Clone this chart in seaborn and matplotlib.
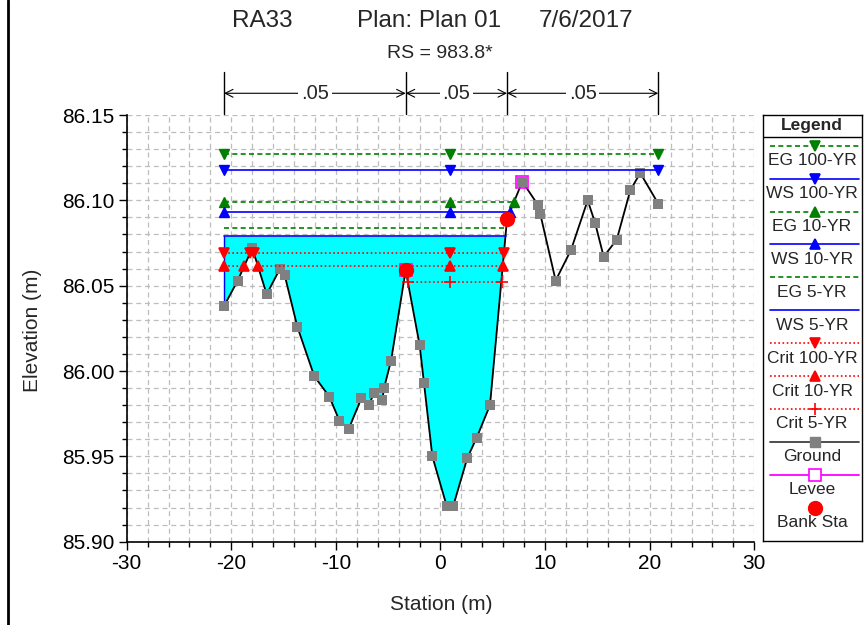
import numpy as np
import matplotlib
matplotlib.use("Agg")
import matplotlib.pyplot as plt
from matplotlib.ticker import MultipleLocator, FormatStrFormatter
from matplotlib.lines import Line2D
import seaborn as sns

# ground profile (station m, elevation m)
station = [-20.70, -19.39, -17.99, -16.62, -15.34, -14.89, -13.69, -12.07, -10.63, -9.67,
           -8.78, -7.57, -6.86, -6.36, -5.56, -5.40, -4.73, -3.33, -1.99, -1.58,
           -0.78, 0.59, 1.22, 2.56, 3.46, 4.73, 6.36, 7.82, 9.35, 9.54,
           11.01, 12.48, 14.07, 14.77, 15.60, 16.85, 18.15, 19.10, 20.82]
ground = [86.038, 86.053, 86.072, 86.045, 86.060, 86.056, 86.026, 85.997, 85.985, 85.971,
          85.966, 85.984, 85.980, 85.987, 85.983, 85.990, 86.006, 86.059, 86.015, 85.993,
          85.950, 85.921, 85.921, 85.949, 85.961, 85.980, 86.089, 86.111, 86.097, 86.092,
          86.053, 86.071, 86.100, 86.087, 86.067, 86.077, 86.106, 86.116, 86.098]

bank_sta = [-3.33, 6.36]
bank_elev = [86.059, 86.089]
levee_sta = [-3.33, 7.82]
levee_elev = [86.059, 86.111]

# energy grade / water surface profiles
ws_names = ["EG 100-YR", "WS 100-YR", "EG 10-YR", "WS 10-YR", "EG 5-YR", "WS 5-YR"]
ws_elev = [86.127, 86.118, 86.099, 86.093, 86.084, 86.079]
ws_right = [20.82, 20.82, 7.04, 6.65, 6.29, 6.22]
mid_sta = 0.91

# critical depth lines, given as (start, end) station pairs
crit_names = ["Crit 100-YR", "Crit 10-YR", "Crit 5-YR"]
crit_elev = [86.069, 86.0615, 86.052]
crit_reaches = [[(-20.70, -18.21), (-17.84, 6.07)],
                [(-20.70, -18.76), (-17.48, 5.97)],
                [(-3.12, 5.87)]]

# manning's n
n_values = [".05", ".05", ".05"]
n_breaks = [-20.70, -3.33, 6.36, 20.82]

styles = {
    "EG 100-YR": dict(color="#008000", ls=(0, (3, 2)), marker="v"),
    "WS 100-YR": dict(color="#0000ff", ls="-", marker="v"),
    "EG 10-YR": dict(color="#008000", ls=(0, (3, 2)), marker="^"),
    "WS 10-YR": dict(color="#0000ff", ls="-", marker="^"),
    "EG 5-YR": dict(color="#008000", ls=(0, (3, 2)), marker=None),
    "WS 5-YR": dict(color="#0000ff", ls="-", marker=None),
    "Crit 100-YR": dict(color="#ff0000", ls=(0, (1, 1.5)), marker="v"),
    "Crit 10-YR": dict(color="#ff0000", ls=(0, (1, 1.5)), marker="^"),
    "Crit 5-YR": dict(color="#ff0000", ls=(0, (1, 1.5)), marker="+"),
}

sns.set_style("white")
plt.rcParams['font.family'] = ['Liberation Sans', 'DejaVu Sans']
plt.rcParams['axes.unicode_minus'] = False

W, H = 864, 625
fig = plt.figure(figsize=(W / 100, H / 100), dpi=100)
ax = fig.add_axes([126.7 / W, 1 - 541.7 / H, (754.3 - 126.7) / W, (541.7 - 115) / H])

st = np.array(station)
gr = np.array(ground)

# water in the channel (WS 5-YR)
ax.fill_between(st, gr, ws_elev[5], where=(st <= bank_sta[1]) & (gr < ws_elev[5]),
                interpolate=True, color="#00ffff", lw=0, zorder=1)
ax.plot([st[0], st[0]], [gr[0], ws_elev[5]], color="#0000ff", lw=1, zorder=2)

# ground
sns.lineplot(x=station, y=ground, sort=False, estimator=None, color="black",
             linewidth=1.3, ax=ax, zorder=3)
sns.scatterplot(x=station, y=ground, marker="s", color="#808080", s=42,
                linewidth=0, ax=ax, zorder=4)

for name, elev, right in zip(ws_names, ws_elev, ws_right):
    s = styles[name]
    ax.plot([station[0], right], [elev, elev], color=s["color"], ls=s["ls"], lw=1.2, zorder=5)
    if s["marker"]:
        ax.plot([station[0], mid_sta, right], [elev] * 3, ls="none", marker=s["marker"],
                color=s["color"], ms=7, zorder=6)

for name, elev, reaches in zip(crit_names, crit_elev, crit_reaches):
    s = styles[name]
    pts = [mid_sta]
    for a, b in reaches:
        ax.plot([a, b], [elev, elev], color=s["color"], ls=s["ls"], lw=1.2, zorder=5)
        pts += [a, b]
    ax.plot(pts, [elev] * len(pts), ls="none", marker=s["marker"], color=s["color"],
            ms=7 if s["marker"] != "+" else 8, mew=1.2, zorder=6)

ax.plot(levee_sta, levee_elev, ls="none", marker="s", mfc="none", mec="#ff00ff",
        ms=9, mew=1.2, zorder=7)
ax.plot(bank_sta, bank_elev, ls="none", marker="o", color="#ff0000", ms=10, zorder=8)

# axes
ax.set_xlim(-30, 30)
ax.set_ylim(85.90, 86.15)
ax.xaxis.set_major_locator(MultipleLocator(10))
ax.xaxis.set_minor_locator(MultipleLocator(2))
ax.yaxis.set_major_locator(MultipleLocator(0.05))
ax.yaxis.set_minor_locator(MultipleLocator(0.01))
ax.yaxis.set_major_formatter(FormatStrFormatter("%.2f"))
ax.grid(which="both", ls=(0, (4, 3)), color="#bdbdbd", lw=0.9)
ax.set_axisbelow(True)
for side in ["top", "right"]:
    ax.spines[side].set_visible(False)
for side in ["left", "bottom"]:
    ax.spines[side].set_color("black")
    ax.spines[side].set_linewidth(1.2)
ax.tick_params(which="major", direction="out", length=5.5, width=1, labelsize=15,
               colors="black", left=True, bottom=True)
ax.tick_params(which="minor", direction="out", length=3.5, width=1, colors="black",
               left=True, bottom=True)
ax.set_xlabel("")
ax.set_ylabel("")

# manning's n bar above the plot
trans = ax.get_xaxis_transform()
for b in n_breaks:
    ax.plot([b, b], [1.0023, 1.1008], transform=trans, color="black", lw=1, clip_on=False)
for i, nv in enumerate(n_values):
    a, b = n_breaks[i], n_breaks[i + 1]
    ax.annotate("", xy=(a, 1.0509), xytext=(b, 1.0509), xycoords=trans, textcoords=trans,
                arrowprops=dict(arrowstyle="<->", color="black", lw=0.8,
                                shrinkA=0, shrinkB=0, mutation_scale=14))
    ax.text((a + b) / 2, 1.0495, nv, transform=trans, ha="center", va="center",
            fontsize=14.5, bbox=dict(fc="white", ec="none", pad=2))

# titles and axis labels
fig.text(262.5 / W, 1 - 21 / H, "RA33", ha="center", va="center", fontsize=17.5)
fig.text(429 / W, 1 - 21 / H, "Plan: Plan 01", ha="center", va="center", fontsize=17.5)
fig.text(586.5 / W, 1 - 21 / H, "7/6/2017", ha="center", va="center", fontsize=17.5)
fig.text(440 / W, 1 - 54 / H, "RS = 983.8*", ha="center", va="center", fontsize=14)
fig.text(441 / W, 1 - 605 / H, "Station (m)", ha="center", va="center", fontsize=15)
fig.text(32.5 / W, 1 - 330 / H, "Elevation (m)", ha="center", va="center",
         fontsize=15, rotation=90)

fig.add_artist(Line2D([8 / W, 8 / W], [0, 1], color="black", lw=2))

# legend box (line sample above label)
lax = fig.add_axes([762.7 / W, 1 - 541 / H, (862 - 762.7) / W, (541 - 115) / H])
lax.set_xlim(762.7, 862)
lax.set_ylim(541, 115)
lax.set_xticks([])
lax.set_yticks([])
for sp in lax.spines.values():
    sp.set_visible(True)
    sp.set_color("black")
    sp.set_linewidth(1)
lax.text(812, 125.5, "Legend", ha="center", va="center", fontsize=12.5, fontweight="bold")
lax.axhline(136.7, color="black", lw=1)

entries = ws_names + crit_names + ["Ground", "Levee", "Bank Sta"]
for i, name in enumerate(entries):
    ly = 145.7 + i * 32.9
    if name in styles:
        s = styles[name]
        lax.plot([770, 859], [ly, ly], color=s["color"], ls=s["ls"], lw=1.2)
        if s["marker"]:
            lax.plot([815], [ly], ls="none", marker=s["marker"], color=s["color"],
                     ms=7 if s["marker"] != "+" else 8, mew=1.2)
    elif name == "Ground":
        lax.plot([770, 859], [ly, ly], color="#404040", lw=1.3)
        lax.plot([815], [ly], ls="none", marker="s", color="#808080", ms=7)
    elif name == "Levee":
        lax.plot([770, 859], [ly, ly], color="#ff00ff", lw=1.3)
        lax.plot([815], [ly], ls="none", marker="s", mfc="white", mec="#ff00ff", ms=9, mew=1.2)
    else:
        lax.plot([815], [ly], ls="none", marker="o", color="#ff0000", ms=10)
    lax.text(812, ly + 15, name, ha="center", va="center", fontsize=12.5)

fig.savefig("out.png", dpi=100)
